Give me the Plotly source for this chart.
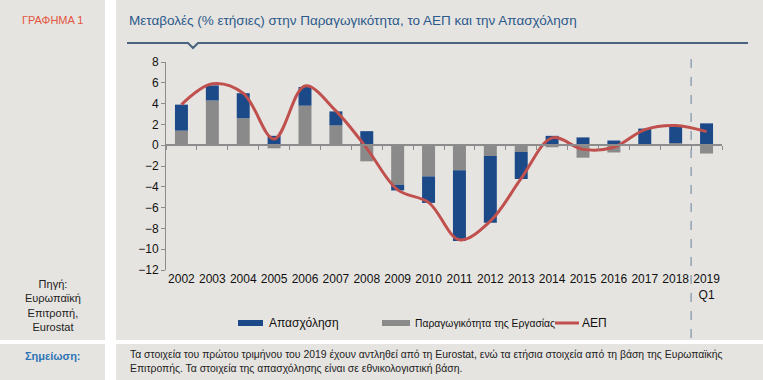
import plotly.graph_objects as go

# ---- data ----
years = ["2002", "2003", "2004", "2005", "2006", "2007", "2008", "2009", "2010",
         "2011", "2012", "2013", "2014", "2015", "2016", "2017", "2018", "2019<br>Q1"]
employment = [2.5, 1.45, 2.4, 0.9, 1.8, 1.35, 1.35, -0.55, -2.55,
              -6.8, -6.4, -2.6, 0.9, 0.75, 0.45, 1.5, 1.65, 2.1]
productivity = [1.4, 4.3, 2.6, -0.3, 3.8, 1.9, -1.55, -3.8, -3.0,
                -2.4, -1.05, -0.65, -0.2, -1.2, -0.7, 0.1, 0.2, -0.8]
gdp = [3.9, 5.9, 5.0, 0.6, 5.7, 3.3, -0.3, -4.3, -5.5,
       -9.1, -7.3, -3.2, 0.7, -0.4, -0.2, 1.5, 1.9, 1.3]
yticks = [8, 6, 4, 2, 0, -2, -4, -6, -8, -10, -12]

BLUE = "#1c4a89"
GRAY = "#8a8a8a"
RED = "#c0504d"
PANEL = "#e6e4e0"
FONT = "Liberation Sans, Arial, sans-serif"

W, H = 763, 380
L, R, T, B = 166, 722, 62, 270


def px(x):
    return (x - L) / (R - L)


def py(y):
    return (B - y) / (B - T)


fig = go.Figure()
fig.add_trace(go.Bar(x=years, y=productivity, name="Παραγωγικότητα της Εργασίας",
                     marker=dict(color=GRAY, line=dict(width=0)), showlegend=False))
fig.add_trace(go.Bar(x=years, y=employment, name="Απασχόληση",
                     marker=dict(color=BLUE, line=dict(width=0)), showlegend=False))
fig.add_trace(go.Scatter(x=years, y=gdp, name="ΑΕΠ", mode="lines",
                         line=dict(color=RED, width=3, shape="spline", smoothing=1.0),
                         showlegend=False))
# invisible helper for the zero-line tick axis
fig.add_trace(go.Scatter(x=[-0.5, len(years) - 0.5], y=[0, 0], xaxis="x2", mode="lines",
                         line=dict(width=0), hoverinfo="skip", showlegend=False))

shapes = []
# panels
for x0, x1, y0, y1 in [(0, 105, 0, 340), (116, W, 0, 340), (0, 105, 344, H), (116, W, 344, H)]:
    shapes.append(dict(type="rect", xref="paper", yref="paper", layer="below",
                       x0=px(x0), x1=px(x1), y0=py(y1), y1=py(y0),
                       fillcolor=PANEL, line=dict(width=0)))
# title underline with notch
shapes.append(dict(type="path", xref="paper", yref="paper",
                   path=f"M {px(127)} {py(43)} L {px(188)} {py(43)} L {px(193)} {py(48)} "
                        f"L {px(198)} {py(43)} L {px(748)} {py(43)}",
                   line=dict(color="#4a6480", width=2)))
# dashed separator before 2019 Q1
shapes.append(dict(type="line", xref="x", yref="paper", x0=16.5, x1=16.5,
                   y0=py(338), y1=py(50), line=dict(color="#7d92a8", width=1.2, dash="dash")))
# legend swatches
shapes.append(dict(type="rect", xref="paper", yref="paper", x0=px(238), x1=px(263),
                   y0=py(326), y1=py(320), fillcolor=BLUE, line=dict(width=0)))
shapes.append(dict(type="rect", xref="paper", yref="paper", x0=px(382), x1=px(410),
                   y0=py(326), y1=py(320), fillcolor=GRAY, line=dict(width=0)))
shapes.append(dict(type="line", xref="paper", yref="paper", x0=px(555), x1=px(579),
                   y0=py(323), y1=py(323), line=dict(color=RED, width=3)))

annotations = [
    dict(text="ΓΡΑΦΗΜΑ 1", x=px(20), y=py(20), xanchor="left", yanchor="middle",
         font=dict(size=11, color="#e2553e", family=FONT)),
    dict(text="Μεταβολές (% ετήσιες) στην Παραγωγικότητα, το ΑΕΠ και την Απασχόληση",
         x=px(127), y=py(20), xanchor="left", yanchor="middle",
         font=dict(size=13.5, color="#2c5a8c", family=FONT)),
    dict(text="Πηγή:<br>Ευρωπαϊκή<br>Επιτροπή,<br>Eurostat", x=px(53), y=py(305),
         xanchor="center", yanchor="middle", align="center",
         font=dict(size=11, color="#222222", family=FONT)),
    dict(text="<b>Σημείωση:</b>", x=px(53), y=py(356), xanchor="center", yanchor="middle",
         font=dict(size=11, color="#2e75b6", family=FONT)),
    dict(text="Τα στοιχεία του πρώτου τριμήνου του 2019 έχουν αντληθεί από τη Eurostat, "
              "ενώ τα ετήσια στοιχεία από τη βάση της Ευρωπαϊκής<br>Επιτροπής. "
              "Τα στοιχεία της απασχόλησης είναι σε εθνικολογιστική βάση.",
         x=px(128), y=py(361.5), xanchor="left", yanchor="middle", align="left",
         font=dict(size=10.4, color="#222222", family=FONT)),
    dict(text="Απασχόληση", x=px(267), y=py(323), xanchor="left", yanchor="middle",
         font=dict(size=12, color="#111111", family=FONT)),
    dict(text="Παραγωγικότητα της Εργασίας", x=px(413), y=py(323), xanchor="left",
         yanchor="middle", font=dict(size=10.3, color="#111111", family=FONT)),
    dict(text="ΑΕΠ", x=px(580), y=py(323), xanchor="left", yanchor="middle",
         font=dict(size=12, color="#111111", family=FONT)),
]
for a in annotations:
    a.update(xref="paper", yref="paper", showarrow=False)

fig.update_layout(
    width=W, height=H,
    margin=dict(l=L, r=W - R, t=T, b=H - B, pad=0),
    paper_bgcolor="white", plot_bgcolor="rgba(0,0,0,0)",
    barmode="relative", bargap=0.58,
    font=dict(family=FONT, size=12, color="#111111"),
    shapes=shapes, annotations=annotations,
    xaxis=dict(type="category", range=[-0.5, len(years) - 0.5], showline=False,
               showgrid=False, zeroline=False, ticks="", tickfont=dict(size=12)),
    xaxis2=dict(overlaying="x", anchor="free", position=0.6, type="linear",
                range=[-0.5, len(years) - 0.5], showline=True, linecolor="#8c8c8c",
                linewidth=1.5, ticks="outside", ticklen=4, tickcolor="#8c8c8c",
                tickvals=[i + 0.5 for i in range(-1, len(years))], showticklabels=False,
                showgrid=False, zeroline=False),
    yaxis=dict(range=[-12, 8], tickvals=yticks, showline=True, linecolor="#8c8c8c",
               linewidth=1, ticks="outside", ticklen=4, tickcolor="#8c8c8c",
               showgrid=False, zeroline=False, tickfont=dict(size=12)),
)

fig.write_html("out.html", config={"displayModeBar": False},
               post_script="document.body.style.margin='0';document.body.style.overflow='hidden';")
